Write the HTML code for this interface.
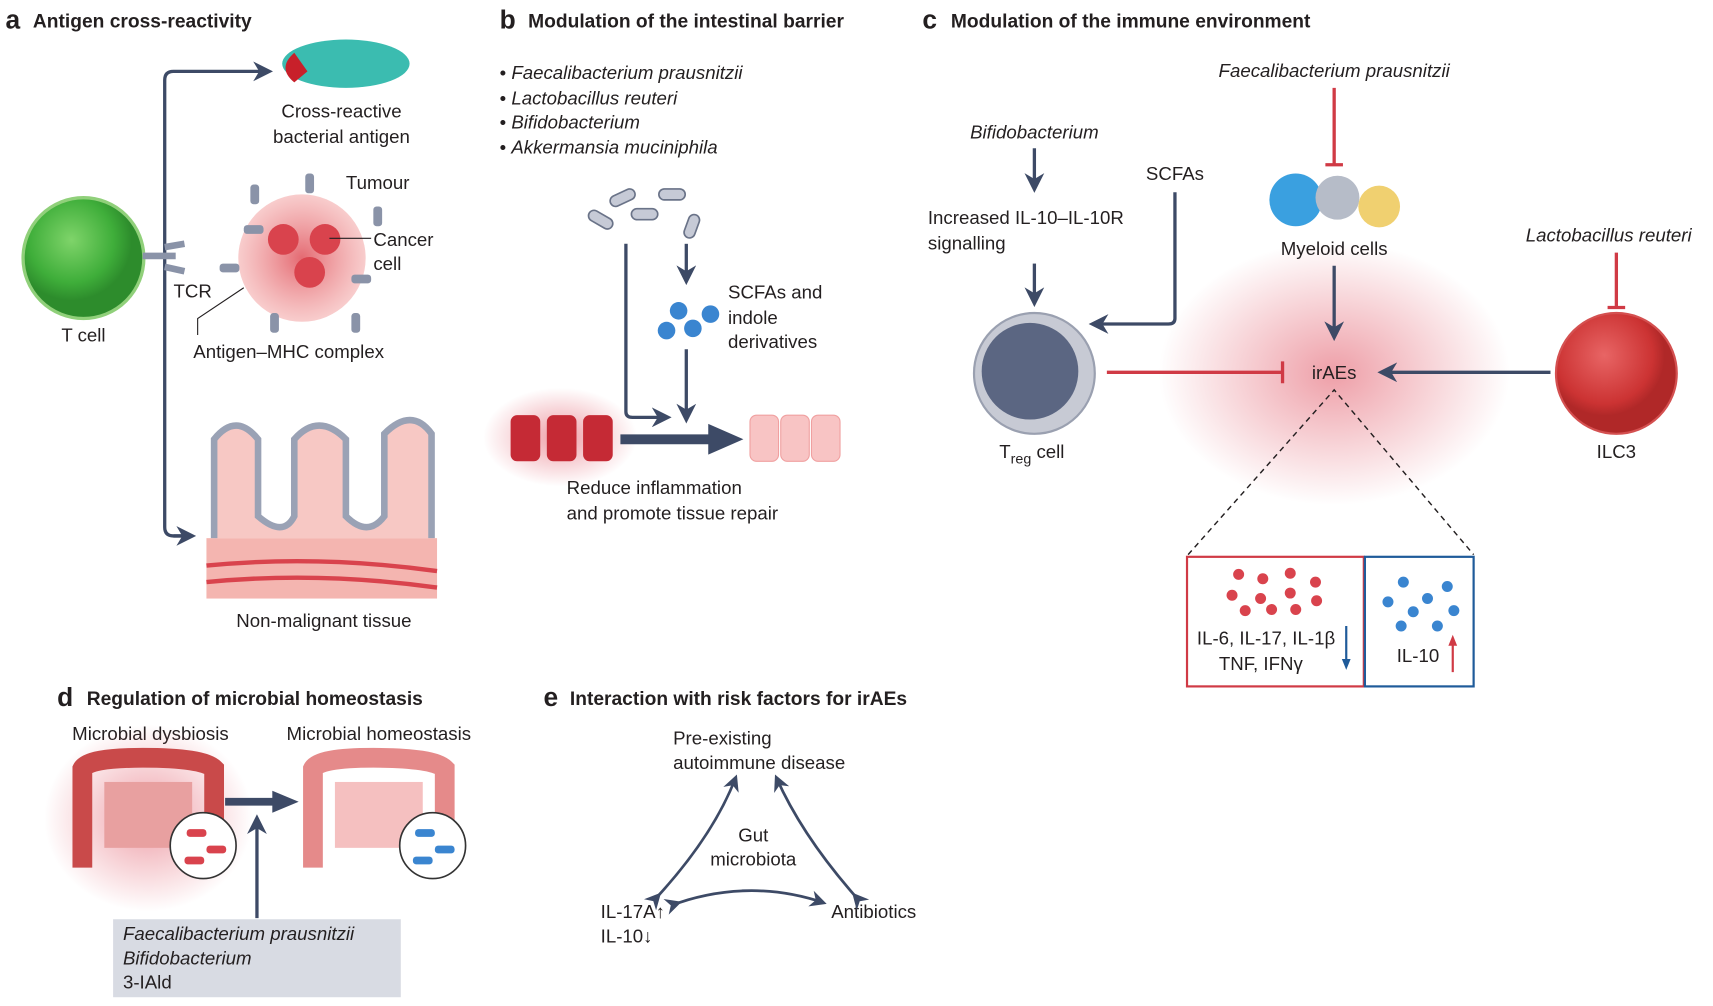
<!DOCTYPE html>
<html><head><meta charset="utf-8"><style>
html,body{margin:0;padding:0;background:#fff}
svg{display:block}
text{font-family:"Liberation Sans",sans-serif;font-size:17px;fill:#231f20}
.t{font-weight:bold;font-size:17.5px}
.L{font-weight:bold;font-size:24px}
.i{font-style:italic}
</style></head><body>
<svg width="1713" height="1006" viewBox="0 0 1560 916" preserveAspectRatio="none" xmlns="http://www.w3.org/2000/svg">
<defs>
<marker id="ar" viewBox="0 0 10 10" refX="8" refY="5" markerWidth="6" markerHeight="6" orient="auto"><path d="M0,0L10,5L0,10L3,5z" fill="#3d4a66"/></marker>
<radialGradient id="glow"><stop offset="0" stop-color="#e05060" stop-opacity=".55"/><stop offset="1" stop-color="#e05060" stop-opacity="0"/></radialGradient>
<radialGradient id="gc" cx=".4" cy=".35"><stop offset="0" stop-color="#7fd46a"/><stop offset=".7" stop-color="#3fae3a"/><stop offset="1" stop-color="#2d8c2c"/></radialGradient>
<radialGradient id="rc" cx=".4" cy=".35"><stop offset="0" stop-color="#e86565"/><stop offset=".8" stop-color="#cc3333"/><stop offset="1" stop-color="#b02828"/></radialGradient>
<radialGradient id="tumg"><stop offset="0" stop-color="#e46a72"/><stop offset="1" stop-color="#f5b7b7" stop-opacity=".7"/></radialGradient>
</defs>
<g fill="none" stroke="#3d4a66" stroke-width="3">
<path d="M175,488 H158 Q150,488 150,480 V73 Q150,65 158,65 H245" marker-end="url(#ar)"/>
<path d="M158,488 H175" marker-end="url(#ar)"/>
</g>
<text x="5" y="26" class="L">a</text><text x="30" y="25" class="t">Antigen cross-reactivity</text>
<ellipse cx="315" cy="58" rx="58" ry="22" fill="#3bbcb0"/><path d="M268,48 Q252,62 268,75 L280,65z" fill="#c8202a"/>
<text x="311" y="107" text-anchor="middle">Cross-reactive</text><text x="311" y="130" text-anchor="middle">bacterial antigen</text>
<circle cx="76" cy="235" r="55" fill="url(#gc)" stroke="#90d07a" stroke-width="3"/>
<path d="M130,233 H160 M150,225 L168,222 M150,243 L168,247" stroke="#8a93a8" stroke-width="6"/>
<circle cx="275" cy="235" r="58" fill="url(#tumg)"/>
<circle cx="258" cy="218" r="14" fill="#d9434d"/><circle cx="296" cy="218" r="14" fill="#d9434d"/><circle cx="282" cy="248" r="14" fill="#d9434d"/>
<g fill="#8a93a8"><rect x="228" y="168" width="8" height="18" rx="3"/><rect x="278" y="158" width="8" height="18" rx="3"/><rect x="340" y="188" width="8" height="18" rx="3"/><rect x="200" y="240" width="18" height="8" rx="3"/><rect x="320" y="250" width="18" height="8" rx="3"/><rect x="246" y="285" width="8" height="18" rx="3"/><rect x="320" y="285" width="8" height="18" rx="3"/><rect x="222" y="205" width="18" height="8" rx="3"/></g>
<path d="M300,217 H338 M180,305 V290 L222,262" stroke="#231f20" stroke-width="1" fill="none"/>
<text x="315" y="172">Tumour</text><text x="340" y="224">Cancer</text><text x="340" y="246">cell</text>
<text x="158" y="271">TCR</text><text x="76" y="311" text-anchor="middle">T cell</text><text x="176" y="326">Antigen–MHC complex</text>
<rect x="188" y="490" width="210" height="55" fill="#f4b5b0"/>
<path d="M188,515 Q290,505 398,520 M188,530 Q290,520 398,535" stroke="#d9434d" stroke-width="4" fill="none"/>
<g fill="#f7c8c4" stroke="#9aa2b5" stroke-width="6">
<path d="M195,490 V400 Q215,375 235,400 V470 Q258,490 268,470 V400 Q290,375 315,400 V470 Q335,490 350,470 V395 Q375,370 393,395 V490"/>
</g>
<text x="295" y="571" text-anchor="middle">Non-malignant tissue</text>
<text x="455" y="26" class="L">b</text><text x="481" y="25" class="t">Modulation of the intestinal barrier</text>
<g><text x="455" y="72">• <tspan class="i">Faecalibacterium prausnitzii</tspan></text><text x="455" y="95">• <tspan class="i">Lactobacillus reuteri</tspan></text><text x="455" y="117">• <tspan class="i">Bifidobacterium</tspan></text><text x="455" y="140">• <tspan class="i">Akkermansia muciniphila</tspan></text></g>
<g fill="#c6cad6" stroke="#6a7388" stroke-width="1.5"><rect x="555" y="175" width="24" height="10" rx="5" transform="rotate(-25 567 180)"/><rect x="600" y="172" width="24" height="10" rx="5"/><rect x="535" y="195" width="24" height="10" rx="5" transform="rotate(30 547 200)"/><rect x="575" y="190" width="24" height="10" rx="5"/><rect x="625" y="195" width="10" height="22" rx="5" transform="rotate(20 630 206)"/></g>
<g fill="none" stroke="#3d4a66" stroke-width="3">
<path d="M625,222 V256" marker-end="url(#ar)"/><path d="M625,318 V382" marker-end="url(#ar)"/>
<path d="M570,222 V375 Q570,380 576,380 H608" marker-end="url(#ar)"/>
</g>
<g fill="#3a85d0"><circle cx="618" cy="283" r="8"/><circle cx="647" cy="286" r="8"/><circle cx="607" cy="301" r="8"/><circle cx="631" cy="299" r="8"/></g>
<text x="663" y="272">SCFAs and</text><text x="663" y="295">indole</text><text x="663" y="317">derivatives</text>
<ellipse cx="510" cy="398" rx="70" ry="45" fill="url(#glow)"/>
<g fill="#c52a35"><rect x="465" y="378" width="27" height="42" rx="6"/><rect x="498" y="378" width="27" height="42" rx="6"/><rect x="531" y="378" width="27" height="42" rx="6"/></g>
<path d="M565,400 H650" stroke="#3d4a66" stroke-width="9"/><path d="M645,386 L677,400 L645,414z" fill="#3d4a66"/>
<g fill="#f8c4c4" stroke="#f0a0a0"><rect x="683" y="378" width="26" height="42" rx="6"/><rect x="711" y="378" width="26" height="42" rx="6"/><rect x="739" y="378" width="26" height="42" rx="6"/></g>
<text x="516" y="450">Reduce inflammation</text><text x="516" y="473">and promote tissue repair</text>
<text x="840" y="26" class="L">c</text><text x="866" y="25" class="t">Modulation of the immune environment</text>
<ellipse cx="1215" cy="340" rx="160" ry="120" fill="url(#glow)"/>
<text x="1215" y="70" class="i" text-anchor="middle">Faecalibacterium prausnitzii</text>
<path d="M1215,80 V150 M1207,150 H1223" stroke="#d03a45" stroke-width="3"/>
<circle cx="1180" cy="182" r="24" fill="#3aa0e0"/><circle cx="1218" cy="180" r="20" fill="#b6bcc8"/><circle cx="1256" cy="188" r="19" fill="#f0d070"/>
<text x="1215" y="232" text-anchor="middle">Myeloid cells</text>
<text x="942" y="126" class="i" text-anchor="middle">Bifidobacterium</text>
<text x="845" y="204">Increased IL-10–IL-10R</text><text x="845" y="227">signalling</text>
<text x="1070" y="164" text-anchor="middle">SCFAs</text>
<g fill="none" stroke="#3d4a66" stroke-width="3">
<path d="M942,135 V172" marker-end="url(#ar)"/><path d="M942,240 V276" marker-end="url(#ar)"/>
<path d="M1070,175 V290 Q1070,295 1064,295 H995" marker-end="url(#ar)"/>
<path d="M1215,242 V307" marker-end="url(#ar)"/><path d="M1412,339 H1258" marker-end="url(#ar)"/>
</g>
<circle cx="942" cy="340" r="55" fill="#c7cad4" stroke="#9aa0b0" stroke-width="2"/><circle cx="938" cy="338" r="44" fill="#5b6682"/>
<text x="910" y="417">T<tspan font-size="13" dy="5">reg</tspan><tspan dy="-5"> cell</tspan></text>
<text x="1215" y="345" text-anchor="middle">irAEs</text>
<path d="M1008,339 H1168 M1168,329 V349" stroke="#d03a45" stroke-width="3"/>
<circle cx="1472" cy="340" r="55" fill="url(#rc)" stroke="#d45050" stroke-width="2"/>
<text x="1472" y="417" text-anchor="middle">ILC3</text>
<text x="1465" y="220" class="i" text-anchor="middle">Lactobacillus reuteri</text>
<path d="M1472,230 V280 M1464,280 H1480" stroke="#d03a45" stroke-width="3"/>
<path d="M1082,505 L1215,355 L1342,505" stroke="#231f20" stroke-width="1.3" stroke-dasharray="5,4" fill="none"/>
<rect x="1081" y="507" width="161" height="118" fill="none" stroke="#d03a45" stroke-width="2"/>
<rect x="1243" y="507" width="99" height="118" fill="none" stroke="#1f5b9a" stroke-width="2"/>
<g fill="#d9434d"><circle cx="1128" cy="523" r="5"/><circle cx="1150" cy="527" r="5"/><circle cx="1175" cy="522" r="5"/><circle cx="1198" cy="530" r="5"/><circle cx="1122" cy="542" r="5"/><circle cx="1148" cy="545" r="5"/><circle cx="1175" cy="540" r="5"/><circle cx="1199" cy="547" r="5"/><circle cx="1134" cy="556" r="5"/><circle cx="1158" cy="555" r="5"/><circle cx="1180" cy="555" r="5"/></g>
<g fill="#3a85d0"><circle cx="1278" cy="530" r="5"/><circle cx="1318" cy="534" r="5"/><circle cx="1264" cy="548" r="5"/><circle cx="1300" cy="545" r="5"/><circle cx="1287" cy="557" r="5"/><circle cx="1324" cy="556" r="5"/><circle cx="1276" cy="570" r="5"/><circle cx="1309" cy="570" r="5"/></g>
<text x="1090" y="587">IL-6, IL-17, IL-1β</text><text x="1110" y="610">TNF, IFNγ</text><text x="1272" y="603">IL-10</text>
<path d="M1226,570 V603" stroke="#1f5b9a" stroke-width="2"/><path d="M1222,600 L1226,610 L1230,600z" fill="#1f5b9a"/>
<path d="M1323,612 V585" stroke="#d03a45" stroke-width="2"/><path d="M1319,588 L1323,578 L1327,588z" fill="#d03a45"/>
<text x="52" y="643" class="L">d</text><text x="79" y="642" class="t">Regulation of microbial homeostasis</text>
<text x="137" y="674" text-anchor="middle">Microbial dysbiosis</text><text x="345" y="674" text-anchor="middle">Microbial homeostasis</text>
<ellipse cx="135" cy="745" rx="95" ry="85" fill="url(#glow)"/>
<path d="M75,790 V700 Q80,690 130,690 Q185,690 195,700 V780" stroke="#c94a4a" stroke-width="18" fill="none"/>
<rect x="95" y="712" width="80" height="60" fill="#e8a0a0"/>
<circle cx="185" cy="770" r="30" fill="#fff" stroke="#333" stroke-width="1.5"/>
<g fill="#d9434d"><rect x="170" y="755" width="18" height="7" rx="3"/><rect x="188" y="770" width="18" height="7" rx="3"/><rect x="168" y="780" width="18" height="7" rx="3"/></g>
<path d="M285,790 V700 Q290,690 340,690 Q395,690 405,700 V780" stroke="#e58a8a" stroke-width="18" fill="none"/>
<rect x="305" y="712" width="80" height="60" fill="#f5c0c0"/>
<circle cx="394" cy="770" r="30" fill="#fff" stroke="#333" stroke-width="1.5"/>
<g fill="#3a85d0"><rect x="378" y="755" width="18" height="7" rx="3"/><rect x="396" y="770" width="18" height="7" rx="3"/><rect x="376" y="780" width="18" height="7" rx="3"/></g>
<path d="M205,730 H250" stroke="#3d4a66" stroke-width="7"/><path d="M248,720 L272,730 L248,740z" fill="#3d4a66"/>
<path d="M234,836 V745" stroke="#3d4a66" stroke-width="3" marker-end="url(#ar)"/>
<rect x="103" y="837" width="262" height="71" fill="#d8dbe3"/>
<text x="112" y="856" class="i">Faecalibacterium prausnitzii</text><text x="112" y="878" class="i">Bifidobacterium</text><text x="112" y="900">3-IAld</text>
<text x="495" y="643" class="L">e</text><text x="519" y="642" class="t">Interaction with risk factors for irAEs</text>
<text x="613" y="678">Pre-existing</text><text x="613" y="700">autoimmune disease</text>
<text x="686" y="766" text-anchor="middle">Gut</text><text x="686" y="788" text-anchor="middle">microbiota</text>
<text x="547" y="836">IL-17A↑</text><text x="547" y="858">IL-10↓</text><text x="757" y="836">Antibiotics</text>
<g fill="none" stroke="#3d4a66" stroke-width="2.5">
<path d="M600,815 Q650,760 670,708" marker-end="url(#ar)" marker-start="url(#ar)"/>
<path d="M778,815 Q730,760 707,708" marker-end="url(#ar)" marker-start="url(#ar)"/>
<path d="M618,822 Q685,800 750,822" marker-end="url(#ar)" marker-start="url(#ar)"/>
</g>
</svg>
</body></html>
